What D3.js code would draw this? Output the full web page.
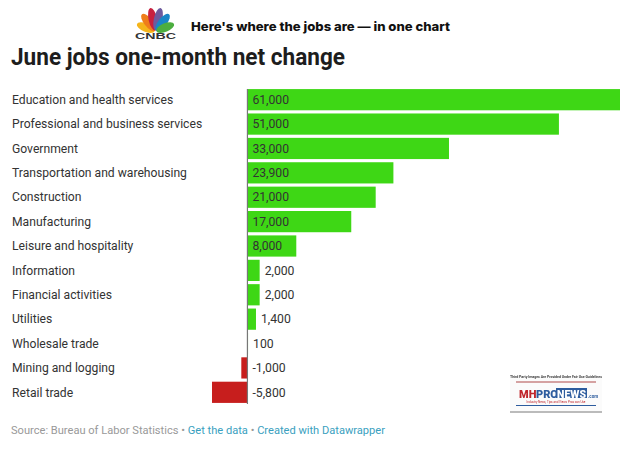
<!DOCTYPE html>
<html><head><meta charset="utf-8">
<script src="https://cdn.jsdelivr.net/npm/d3@7"></script>
<style>html,body{margin:0;padding:0;background:#fff;overflow:hidden}svg{display:block;font-family:Roboto,sans-serif}</style>
</head><body><svg id="c" width="631" height="454"></svg>
<script>
const categories=["Education and health services","Professional and business services","Government","Transportation and warehousing","Construction","Manufacturing","Leisure and hospitality","Information","Financial activities","Utilities","Wholesale trade","Mining and logging","Retail trade"];
const values=[61000,51000,33000,23900,21000,17000,8000,2000,2000,1400,100,-1000,-5800];
const valueLabels=["61,000","51,000","33,000","23,900","21,000","17,000","8,000","2,000","2,000","1,400","100","-1,000","-5,800"];
const insideLabel=[true,true,true,true,true,true,true,false,false,false,false,false,false];
const petalColors=["#f5b51b","#ef7d1a","#c8203f","#6d5a9e","#1a86c7","#4cae3f"];
const petalAngles=[-68,-38,-12,12,38,68];
const petalLengths=[19,21,23,23,21,19];
const svg=d3.select("#c");
const x=d3.scaleLinear().domain([-5800,61000]).range([212,620]);
const y=d3.scaleBand().domain(categories).range([87.5,404.5]).paddingInner(0.13).paddingOuter(0.065);
// header
const logo=svg.append("g").attr("transform","translate(155.5,31.5)");
petalColors.forEach((c,i)=>{
  const L=petalLengths[i];
  logo.append("ellipse").attr("cx",0).attr("cy",-L/2-1).attr("rx",4.3).attr("ry",L/2)
    .attr("fill",c).attr("transform",`rotate(${petalAngles[i]})`);
});
svg.append("text").attr("x",155.5).attr("y",38.5).attr("text-anchor","middle").attr("font-family","Liberation Sans").attr("font-weight",700).attr("font-size",8.5).attr("textLength",41).attr("lengthAdjust","spacingAndGlyphs").attr("fill","#333").text("CNBC");
svg.append("text").attr("x",191).attr("y",31).attr("font-weight",800).attr("font-size",12.4).attr("fill","#111").attr("font-family","Inter,Roboto").attr("textLength",259).attr("lengthAdjust","spacingAndGlyphs").text("Here's where the jobs are — in one chart");
svg.append("text").attr("x",11).attr("y",65).attr("font-weight",700).attr("font-size",23).attr("fill","#1d1d1d").attr("textLength",334).attr("lengthAdjust","spacingAndGlyphs").text("June jobs one-month net change");
// category labels
svg.append("g").selectAll("text").data(categories).join("text")
  .attr("x",12).attr("y",d=>y(d)+y.bandwidth()/2+4.2).attr("font-size",12.15).attr("fill","#333").text(d=>d);
// bars
const rows=categories.map((c,i)=>({c,v:values[i],l:valueLabels[i],inside:insideLabel[i]}));
svg.append("g").selectAll("rect").data(rows).join("rect")
  .attr("x",d=>Math.min(x(d.v),x(0))).attr("y",d=>y(d.c))
  .attr("width",d=>Math.abs(x(d.v)-x(0))).attr("height",y.bandwidth())
  .attr("fill",d=>d.v<0?"#c71e1d":"#3ed715");
// baseline
svg.append("line").attr("x1",x(0)).attr("x2",x(0)).attr("y1",89).attr("y2",404).attr("stroke","#777").attr("stroke-width",1.2);
// value labels
svg.append("g").selectAll("text").data(rows).join("text")
  .attr("x",d=>d.inside?x(0)+5:(d.v<0?x(0)+5:x(d.v)+5))
  .attr("y",d=>y(d.c)+y.bandwidth()/2+4.2).attr("font-size",12.2).attr("fill","#333")
  .text(d=>d.l);
// footer
const f=svg.append("text").attr("x",11).attr("y",434).attr("font-size",11.1).attr("fill","#999");
f.append("tspan").text("Source: Bureau of Labor Statistics • ");
f.append("tspan").attr("fill","#3a9fc0").text("Get the data");
f.append("tspan").text(" • ");
f.append("tspan").attr("fill","#3a9fc0").text("Created with Datawrapper");
// watermark
const m=svg.append("g").style("filter","blur(0.3px)");
m.append("rect").attr("x",510).attr("y",376).attr("width",92).attr("height",37).attr("fill","#fbfbfb");
m.append("text").attr("x",556).attr("y",378).attr("text-anchor","middle").attr("font-size",3.6).attr("font-weight",700).attr("fill","#444").attr("textLength",92).text("Third Party Images Are Provided Under Fair Use Guidelines");
m.append("line").attr("x1",516).attr("x2",596).attr("y1",382).attr("y2",382).attr("stroke","#b04a4a").attr("stroke-width",1.2);
m.append("line").attr("x1",516).attr("x2",596).attr("y1",405.5).attr("y2",405.5).attr("stroke","#2d5c9e").attr("stroke-width",1.2);
m.append("rect").attr("x",510).attr("y",411).attr("width",92).attr("height",2).attr("fill","#bbb");
m.append("text").attr("x",519).attr("y",397.5).attr("font-size",11).attr("font-weight",900).attr("fill","#c0272d").text("MH");
m.append("text").attr("x",536).attr("y",397.5).attr("font-size",11).attr("font-weight",900).attr("fill","#2d5c9e").text("PRO");
m.append("rect").attr("x",556).attr("y",388).attr("width",31).attr("height",10).attr("fill","#2d5c9e");
m.append("text").attr("x",557).attr("y",397.5).attr("font-size",10.5).attr("font-weight",900).attr("fill","#fff").attr("textLength",29).text("NEWS");
m.append("text").attr("x",588).attr("y",397.5).attr("font-size",4.5).attr("font-weight",700).attr("fill","#2d5c9e").text(".com");
m.append("text").attr("x",556).attr("y",402.5).attr("text-anchor","middle").attr("font-size",3).attr("fill","#c0272d").text("Industry News, Tips and Views Pros can Use");
</script></body></html>
